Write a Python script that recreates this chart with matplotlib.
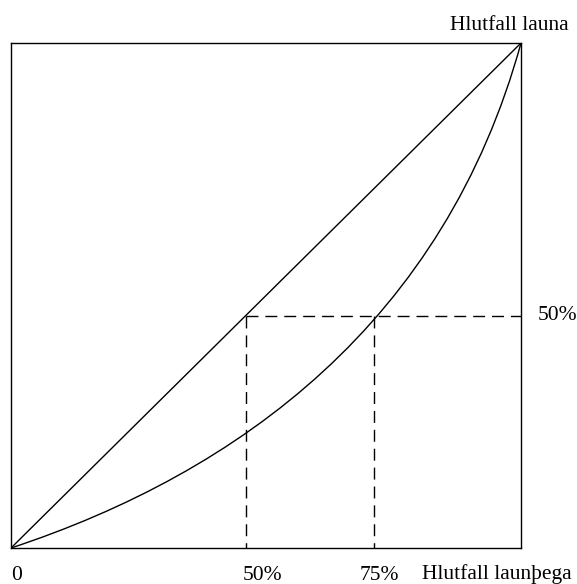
import matplotlib
matplotlib.use('Agg')
from matplotlib import pyplot as plt
from matplotlib.path import Path
from matplotlib.patches import PathPatch

plt.rcParams['font.family'] = ['Liberation Serif', 'DejaVu Serif']

# Lorenz curve (share of earners -> share of wages), as a cubic Bezier:
# start, two control points, end
curve_x = [0.0, 0.45, 0.85, 1.0]
curve_y = [0.0, 0.15, 0.45, 1.0]

# positions of the marked shares on the axes
x_half = 0.46
x_three_q = 0.712
y_half = 0.46

x_labels = ['0', '50%', '75%']
x_label_px = [11, 243, 360]

fig = plt.figure(figsize=(5.77, 5.84), dpi=100)
ax = fig.add_axes([11 / 577, 36 / 584, 510 / 577, 505 / 584])
ax.set_xlim(0, 1)
ax.set_ylim(0, 1)
ax.set_xticks([])
ax.set_yticks([])
for s in ax.spines.values():
    s.set_linewidth(1.0)

# equality line
ax.plot([0, 1], [0, 1], color='black', lw=1.0)

# Lorenz curve
verts = list(zip(curve_x, curve_y))
codes = [Path.MOVETO, Path.CURVE4, Path.CURVE4, Path.CURVE4]
ax.add_patch(PathPatch(Path(verts, codes), facecolor='none',
                       edgecolor='black', lw=1.0))

dash = (0, (8.6, 5.0))
ax.plot([x_half, 1], [y_half, y_half], color='black', lw=1.0, linestyle=dash)
ax.plot([x_half, x_half], [y_half, 0], color='black', lw=1.0, linestyle=dash)
ax.plot([x_three_q, x_three_q], [y_half, 0], color='black', lw=1.0, linestyle=dash)

fs = 15.5
for lab, px in zip(x_labels, x_label_px):
    fig.text(px / 577, 1 - 580 / 584, lab, ha='left', va='baseline', fontsize=fs)
fig.text(422 / 577, 1 - 579 / 584, 'Hlutfall launþega', ha='left', va='baseline', fontsize=fs)
fig.text(538 / 577, 1 - 320 / 584, '50%', ha='left', va='baseline', fontsize=fs)
fig.text(569 / 577, 1 - 30 / 584, 'Hlutfall launa', ha='right', va='baseline', fontsize=fs)

plt.savefig('out.png', dpi=100)
